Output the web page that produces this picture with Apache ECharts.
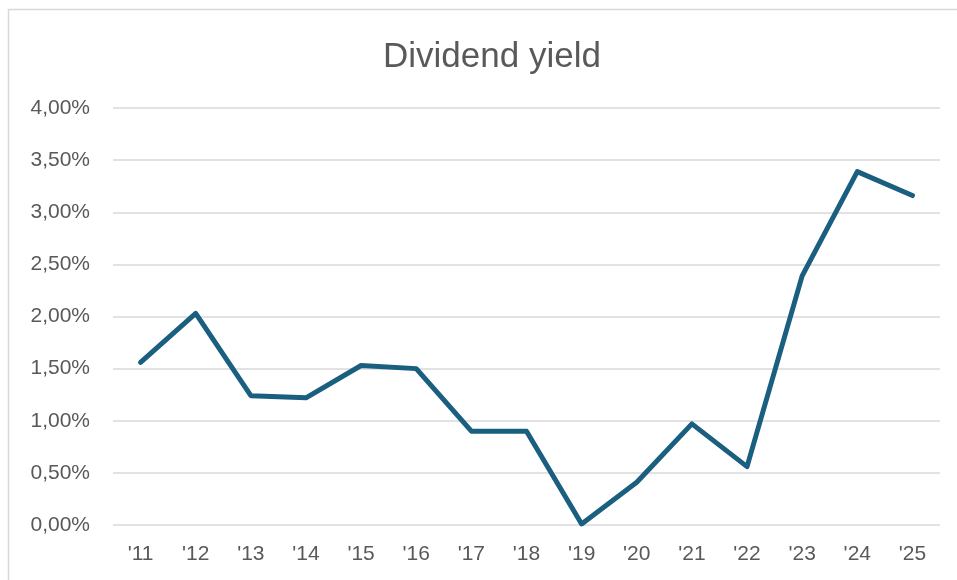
<!DOCTYPE html>
<html>
<head>
<meta charset="utf-8">
<script src="https://cdn.jsdelivr.net/npm/echarts@6/dist/echarts.min.js"></script>
<style>html,body{margin:0;padding:0;background:#fff;}#c{width:957px;height:580px;}</style>
</head>
<body>
<div id="c"></div>
<script>
const categories = ["'11","'12","'13","'14","'15","'16","'17","'18","'19","'20","'21","'22","'23","'24","'25"];
const yieldValues = [1.56, 2.03, 1.24, 1.22, 1.53, 1.50, 0.90, 0.90, 0.01, 0.41, 0.97, 0.56, 2.39, 3.39, 3.16];

const FONT = '"Liberation Sans", Arial, sans-serif';
const chart = echarts.init(document.getElementById('c'));
chart.setOption({
  backgroundColor: '#fff',
  animation: false,
  graphic: [{
    type: 'rect',
    shape: { x: 8.5, y: 9.5, width: 960, height: 600 },
    style: { fill: 'none', stroke: '#d9d9d9', lineWidth: 1.5 },
    silent: true
  }],
  title: {
    text: 'Dividend yield',
    left: 378,
    top: 35,
    textStyle: { fontFamily: FONT, fontSize: 35, fontWeight: 'normal', color: '#595959' }
  },
  grid: { left: 113, right: 17, top: 108, bottom: 55 },
  xAxis: {
    type: 'category',
    data: categories,
    boundaryGap: true,
    axisLine: { show: false },
    axisTick: { show: false },
    axisLabel: { color: '#595959', fontSize: 21, fontFamily: FONT, margin: 19 }
  },
  yAxis: {
    type: 'value',
    min: 0, max: 4, interval: 0.5,
    axisLine: { show: false },
    axisTick: { show: false },
    splitLine: { lineStyle: { color: '#d9d9d9', width: 1.5 } },
    axisLabel: {
      color: '#595959', fontSize: 21, fontFamily: FONT, margin: 23,
      formatter: v => v.toFixed(2).replace('.', ',') + '%'
    }
  },
  series: [{
    type: 'line',
    data: yieldValues,
    showSymbol: false,
    lineStyle: { color: '#1a5f7f', width: 5, cap: 'round', join: 'round' },
    itemStyle: { color: '#1a5f7f' }
  }]
});
</script>
</body>
</html>
